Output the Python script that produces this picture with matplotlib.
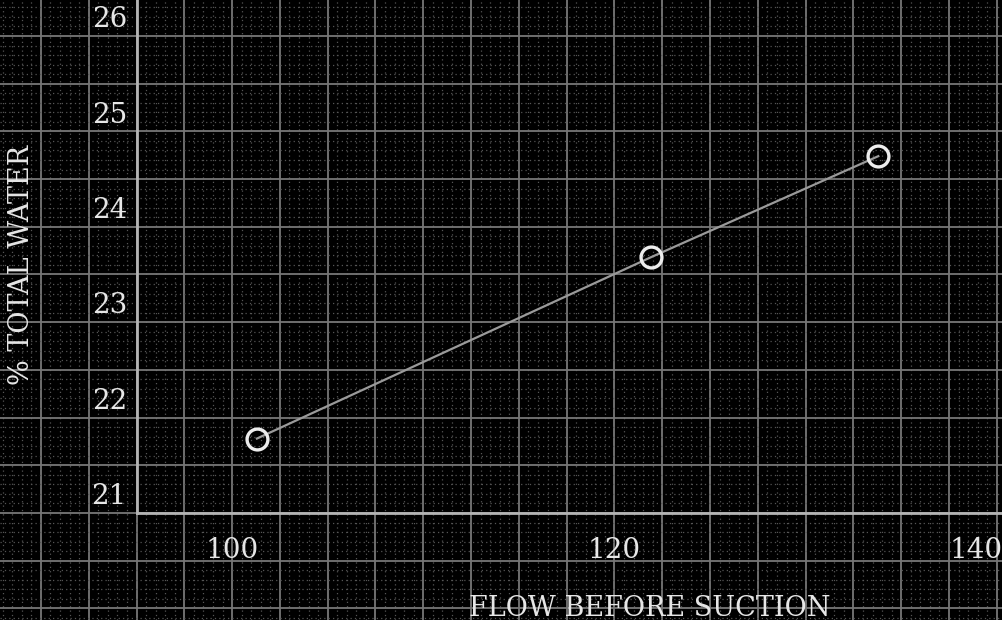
import matplotlib
matplotlib.use("Agg")
import matplotlib.pyplot as plt
from matplotlib.ticker import MultipleLocator

# datos
flujo = [101.3, 121.9, 133.8]
agua = [21.78, 23.68, 24.74]

x_ticks = [100, 120, 140]
y_ticks = [21, 22, 23, 24, 25, 26]

titulo_x = "FLOW BEFORE SUCTION"
titulo_y = "% TOTAL WATER"

fuente = "DejaVu Serif"
blanco = "#e6e6e6"

fig = plt.figure(figsize=(10.02, 6.2), dpi=100, facecolor="black")
ax = fig.add_axes([0, 0, 1, 1])
ax.set_facecolor("black")
ax.set_xlim(87.86, 140.27)
ax.set_ylim(19.878, 26.377)

# papel cuadriculado
ax.xaxis.set_major_locator(MultipleLocator(2.5))
ax.xaxis.set_minor_locator(MultipleLocator(0.5))
ax.yaxis.set_major_locator(MultipleLocator(0.5))
ax.yaxis.set_minor_locator(MultipleLocator(0.1))
ax.grid(which="major", color="#777777", lw=1.3)
ax.grid(which="minor", color="#555555", lw=0.9, ls=(0, (1, 2.5)))
ax.tick_params(which="both", length=0, labelbottom=False, labelleft=False)
for s in ax.spines.values():
    s.set_visible(False)
ax.set_axisbelow(True)

# ejes
ax.plot([95, 95], [21, 26.377], color="#b4b4b4", lw=2, zorder=2)
ax.plot([95, 140.27], [21, 21], color="#b4b4b4", lw=2, zorder=2)

for v in y_ticks:
    ax.text(94.5, v + 0.03, str(v), ha="right", va="bottom", color=blanco,
            fontsize=20, family=fuente)
for v in x_ticks:
    xv = min(v, 138.9)
    ax.text(xv, 20.61, str(v), ha="center", va="center", color=blanco,
            fontsize=20, family=fuente)

ax.text(121.86, 20.0, titulo_x, ha="center", va="center", color=blanco,
        fontsize=19.5, family=fuente)
ax.text(89.0, 23.6, titulo_y, ha="center", va="center", rotation=90,
        color=blanco, fontsize=19.5, family=fuente)

# datos
ax.plot(flujo, agua, color="#9a9a9a", lw=1.6, zorder=3)
ax.plot(flujo, agua, ls="none", marker="o", ms=15, mfc="none",
        mec="#ececec", mew=2.4, zorder=4)

fig.savefig("out.png", dpi=100, facecolor="black")
